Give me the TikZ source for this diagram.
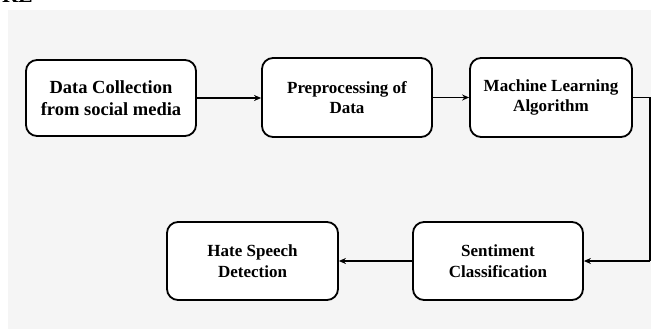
\documentclass[tikz,border=0pt]{standalone}
\usepackage{fontspec}
\setmainfont{Liberation Serif}
\usetikzlibrary{arrows.meta}
\begin{document}
\begin{tikzpicture}[x=1pt,y=-1pt,
  stepbox/.style={draw=black, line width=1.8pt, rounded corners=11pt, fill=white,
    minimum width=#1, minimum height=78pt, inner sep=0pt, align=center,
    font=\fontsize{17}{20.5}\selectfont\bfseries},
  conn/.style={line width=1.8pt, -{Stealth[length=7pt,width=6pt]}},
  line/.style={line width=1.8pt}]
\useasboundingbox (0,0) rectangle (651,329);
\clip (0,0) rectangle (651,329);
\fill[white] (0,0) rectangle (651,329);
\fill[black!4] (8,10) rectangle (651,329);
\node[anchor=base east, font=\fontsize{22}{24}\selectfont\bfseries, inner sep=0pt] (frag) at (33,3) {RE};
\node[stepbox=170pt, minimum height=76pt, font=\fontsize{18.5}{22}\selectfont\bfseries] (b1) at (111,98) {Data Collection\\from social media};
\node[stepbox=170pt, minimum height=79pt] (b2) at (347,97.5) {Preprocessing of\\Data};
\node[stepbox=162pt, minimum height=79pt] (b3) at (551,97.5) {Machine Learning\\Algorithm};
\node[stepbox=171pt] (b4) at (252.5,261) {Hate Speech\\Detection};
\node[stepbox=170pt] (b5) at (498,261) {Sentiment\\Classification};
\coordinate (r1) at (650,97.5);
\coordinate (r2) at (650,261);
\draw[conn] (b1.east) -- (b2.west |- b1.east);
\draw[conn] (b2.east) -- (b3.west);
\draw[line] (b3.east) -- (r1) -- (r2);
\draw[conn] (r2) -- (b5.east);
\draw[conn] (b5.west) -- (b4.east);
\end{tikzpicture}
\end{document}
